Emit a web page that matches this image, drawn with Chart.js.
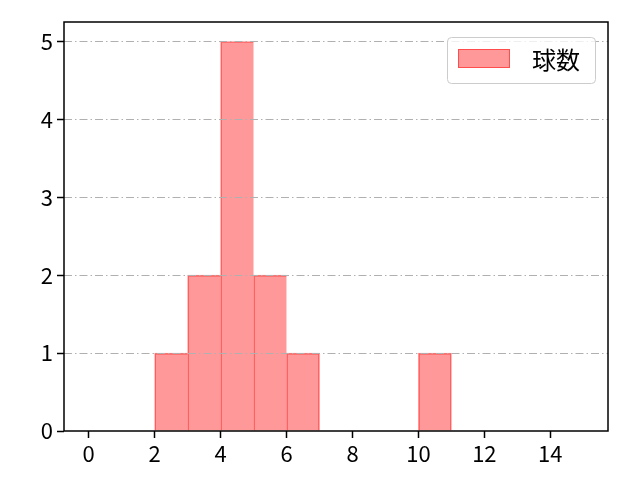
<!DOCTYPE html>
<html><head><meta charset="utf-8">
<script src="https://cdn.jsdelivr.net/npm/chart.js@4"></script>
<style>html,body{margin:0;padding:0;background:#fff}#wrap{width:640px;height:480px}</style>
</head><body><div id="wrap"><canvas id="c" width="640" height="480"></canvas></div>
<script>
const binCenters = [2.5, 3.5, 4.5, 5.5, 6.5, 10.5];
const counts = [1, 2, 5, 2, 1, 1];
const xTicks = [0, 2, 4, 6, 8, 10, 12, 14];
const yTicks = [0, 1, 2, 3, 4, 5];
const seriesLabel = '球数';

const FONT = '"Noto Sans CJK JP", "DejaVu Sans", sans-serif';
const FILL = 'rgba(255,0,0,0.4)';
const EDGE = 'rgba(255,0,0,0.5)';

const framePlugin = {
  id: 'frame',
  beforeDraw(chart) {
    const ctx = chart.ctx;
    ctx.save(); ctx.fillStyle = '#fff'; ctx.fillRect(0, 0, chart.width, chart.height); ctx.restore();
  },
  afterDatasetsDraw(chart) {
    const {ctx, chartArea: a, scales} = chart;
    ctx.save();
    ctx.strokeStyle = '#b0b0b0';
    ctx.lineWidth = 1;
    ctx.setLineDash([8, 3, 1.5, 3]);
    yTicks.forEach(v => {
      if (v === 0) return;
      const y = Math.round(scales.y.getPixelForValue(v)) + 0.5;
      ctx.beginPath(); ctx.moveTo(a.left, y); ctx.lineTo(a.right, y); ctx.stroke();
    });
    ctx.setLineDash([]);
    ctx.strokeStyle = '#000';
    ctx.lineWidth = 1.5;
    ctx.strokeRect(a.left, a.top, a.right - a.left, a.bottom - a.top);

    // legend (matplotlib-style, upper right inside axes)
    const w = 148, h = 46;
    const x = a.right - 13 - w, y = a.top + 15;
    ctx.fillStyle = 'rgba(255,255,255,0.8)';
    ctx.strokeStyle = '#cccccc';
    ctx.lineWidth = 1;
    ctx.beginPath();
    ctx.roundRect(x + 0.5, y + 0.5, w, h, 4);
    ctx.fill();
    ctx.stroke();
    ctx.fillStyle = FILL;
    ctx.strokeStyle = EDGE;
    ctx.fillRect(x + 11, y + 12, 52, 19);
    ctx.strokeRect(x + 11.5, y + 12.5, 51, 18);
    ctx.fillStyle = '#000';
    ctx.font = '24px ' + FONT;
    ctx.textBaseline = 'middle';
    ctx.textAlign = 'left';
    ctx.fillText(seriesLabel, x + 85, y + 23);
    ctx.restore();
  }
};

new Chart(document.getElementById('c'), {
  type: 'bar',
  data: {
    datasets: [{
      label: seriesLabel,
      data: binCenters.map((x, i) => ({x: x, y: counts[i]})),
      backgroundColor: FILL,
      borderColor: EDGE,
      borderWidth: c => {
        const i = c.dataIndex;
        const hasRight = binCenters.indexOf(binCenters[i] + 1) >= 0;
        return {top: 1, left: 1, bottom: 0, right: hasRight ? 0 : 1};
      },
      borderSkipped: false,
      barPercentage: 1,
      categoryPercentage: 1,
      grouped: false
    }]
  },
  plugins: [framePlugin],
  options: {
    responsive: false,
    animation: false,
    devicePixelRatio: 1,
    layout: {padding: {top: 22, right: 32, left: 0, bottom: 0}},
    plugins: {
      legend: {display: false},
      tooltip: {enabled: false}
    },
    scales: {
      x: {
        type: 'linear',
        min: -0.75,
        max: 15.75,
        offset: false,
        afterBuildTicks: s => { s.ticks = xTicks.map(v => ({value: v})); },
        afterFit: s => { s.height = 49; },
        ticks: {font: {family: FONT, size: 22}, color: '#000', padding: 2, autoSkip: false, maxRotation: 0},
        grid: {offset: false, drawOnChartArea: false, tickLength: 7, tickColor: '#000', tickWidth: 1.5, color: '#000'},
        border: {display: false}
      },
      y: {
        min: 0,
        max: 5.25,
        afterBuildTicks: s => { s.ticks = yTicks.map(v => ({value: v})); },
        afterFit: s => { s.width = 64; },
        ticks: {font: {family: FONT, size: 22}, color: '#000', padding: 4},
        grid: {offset: false, drawOnChartArea: false, tickLength: 7, tickColor: '#000', tickWidth: 1.5},
        border: {display: false}
      }
    }
  }
});
</script></body></html>
